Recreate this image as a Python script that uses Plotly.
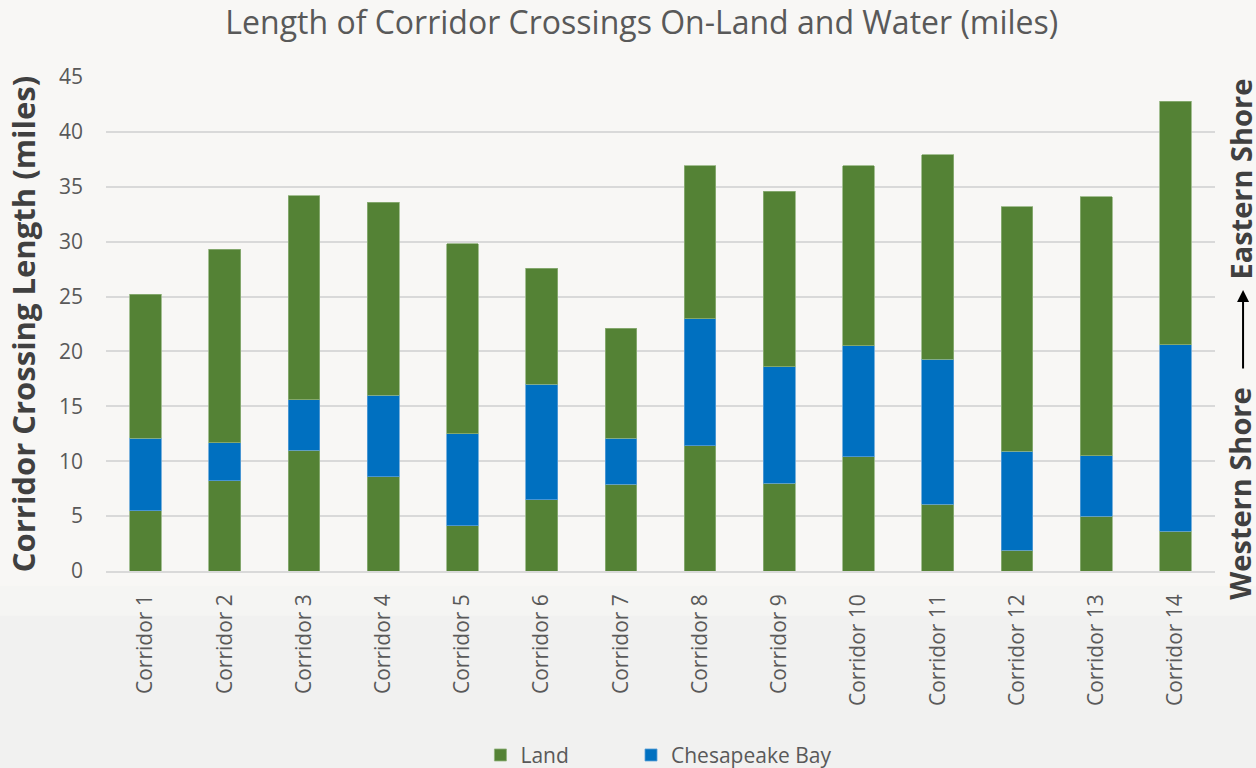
import plotly.graph_objects as go

categories = [f"Corridor {i}" for i in range(1, 15)]
land_west = [5.5, 8.2, 11.0, 8.6, 4.1, 6.5, 7.9, 11.4, 8.0, 10.4, 6.1, 1.9, 5.0, 3.6]
bay = [6.6, 3.5, 4.6, 7.4, 8.4, 10.5, 4.2, 11.6, 10.6, 10.1, 13.2, 9.0, 5.5, 17.0]
land_east = [13.1, 17.6, 18.6, 17.6, 17.3, 10.6, 10.0, 13.9, 16.0, 16.4, 18.6, 22.3, 23.6, 22.2]
y_ticks = [0, 5, 10, 15, 20, 25, 30, 35, 40, 45]

GREEN = "#548235"
BLUE = "#0070C0"
FONT = "Open Sans"

fig = go.Figure()
fig.add_trace(go.Bar(x=categories, y=land_west, name="Land", marker_color=GREEN,
                     marker_line=dict(color="#8fb07a", width=0.8), legend="legend"))
fig.add_trace(go.Bar(x=categories, y=bay, name="Chesapeake Bay", marker_color=BLUE,
                     marker_line=dict(color="#5a9fd6", width=0.8), legend="legend2"))
fig.add_trace(go.Bar(x=categories, y=land_east, name="Land", marker_color=GREEN,
                     marker_line=dict(color="#8fb07a", width=0.8), legend="legend",
                     showlegend=False))

leg_common = dict(orientation="h", yref="container", yanchor="middle", y=0.0165,
                  xref="container", xanchor="left",
                  font=dict(size=21, color="#595959"), bgcolor="rgba(0,0,0,0)",
                  itemwidth=30)

fig.update_layout(
    barmode="stack",
    bargap=0.6,
    width=1256, height=768,
    margin=dict(l=106, r=41, t=77, b=197, autoexpand=False),
    paper_bgcolor="#f8f7f5",
    plot_bgcolor="rgba(0,0,0,0)",
    font=dict(family=FONT, color="#595959"),
    title=dict(text="Length of Corridor Crossings On-Land and Water (miles)",
               x=0.511, xanchor="center", y=0.97, yanchor="middle",
               font=dict(size=32, color="#595959", family=FONT)),
    legend=dict(x=0.3825, **leg_common),
    legend2=dict(x=0.5024, **leg_common),
    xaxis=dict(tickangle=-90, tickfont=dict(size=21, color="#595959"),
               showline=True, linecolor="#d9d9d9", linewidth=1.5, ticks="",
               ticklabelstandoff=13),
    yaxis=dict(range=[0, 45], tickvals=y_ticks, tickfont=dict(size=21, color="#595959"),
               showgrid=True, gridcolor="#d9d9d9", gridwidth=1.5, zeroline=False,
               ticks="", ticklabelstandoff=22,
               title=dict(text="<b>Corridor Crossing Length (miles)</b>",
                          font=dict(size=31, color="#404040"), standoff=14)),
    shapes=[
        dict(type="rect", xref="paper", yref="paper", x0=-0.1, x1=1.04,
             y0=-0.09, y1=-0.03, fillcolor="#f5f5f3", line_width=0, layer="below"),
        dict(type="rect", xref="paper", yref="paper", x0=-0.1, x1=1.04,
             y0=-0.41, y1=-0.09, fillcolor="#f1f1f0", line_width=0, layer="below"),
    ],
)

fig.add_annotation(text="<b>Western Shore</b>", xref="paper", yref="paper",
                   x=1.0226, y=-0.062, textangle=-90, showarrow=False,
                   xanchor="center", yanchor="bottom",
                   font=dict(size=29, color="#404040", family=FONT))
fig.add_annotation(text="<b>Eastern Shore</b>", xref="paper", yref="paper",
                   x=1.0226, y=0.585, textangle=-90, showarrow=False,
                   xanchor="center", yanchor="bottom",
                   font=dict(size=29, color="#404040", family=FONT))
fig.add_annotation(x=1.0253, y=0.569, ax=0, ay=80, xref="paper", yref="paper",
                   axref="pixel", ayref="pixel", text="", showarrow=True,
                   arrowhead=2, arrowsize=1.2, arrowwidth=2, arrowcolor="#000000")

fig.write_html("out.html", config={"displayModeBar": False},
               post_script="document.body.style.margin='0';document.body.style.overflow='hidden';")
